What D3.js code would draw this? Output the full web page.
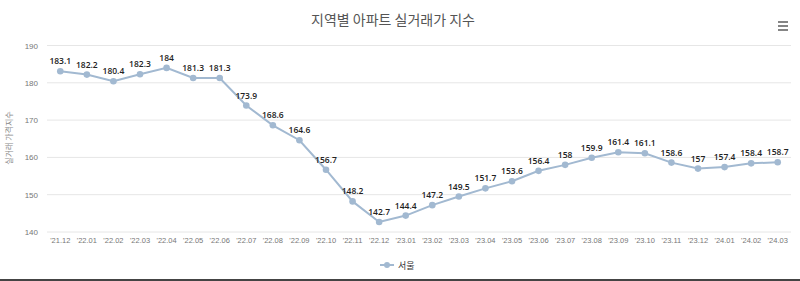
<!DOCTYPE html>
<html><head><meta charset="utf-8">
<script src="https://cdn.jsdelivr.net/npm/d3@7"></script>
<style>body{margin:0;background:#fff}svg{display:block;font-family:"Noto Sans CJK KR","Noto Sans",sans-serif}</style>
</head><body><svg id="c" width="800" height="281"></svg>
<script>
const categories = ["'21.12","'22.01","'22.02","'22.03","'22.04","'22.05","'22.06","'22.07","'22.08","'22.09","'22.10","'22.11","'22.12","'23.01","'23.02","'23.03","'23.04","'23.05","'23.06","'23.07","'23.08","'23.09","'23.10","'23.11","'23.12","'24.01","'24.02","'24.03"];
const seoul = [183.1,182.2,180.4,182.3,184,181.3,181.3,173.9,168.6,164.6,156.7,148.2,142.7,144.4,147.2,149.5,151.7,153.6,156.4,158,159.9,161.4,161.1,158.6,157,157.4,158.4,158.7];
const yTicks = [140,150,160,170,180,190];
const title = "지역별 아파트 실거래가 지수";
const yTitle = "실거래 가격지수";
const seriesName = "서울";

const svg = d3.select("#c");
const L = 47, R = 791, T = 45.5, B = 232;
const x = d3.scaleBand().domain(categories).range([L, R]);
const y = d3.scaleLinear().domain([140,190]).range([B, T]);
const color = "#a2b9d1";

svg.append("text").attr("x",393).attr("y",25).attr("text-anchor","middle")
  .attr("font-size",14).attr("fill","#555").text(title);

// hamburger
const hb = svg.append("g").attr("stroke","#666").attr("stroke-width",1.6);
[22,26,30].forEach(v=>hb.append("line").attr("x1",778).attr("x2",788).attr("y1",v).attr("y2",v));

// grid
svg.append("g").selectAll("line").data(yTicks).join("line")
  .attr("x1",L).attr("x2",R).attr("y1",d=>y(d)).attr("y2",d=>y(d))
  .attr("stroke","#e6e6e6").attr("stroke-width",1);

// y axis labels
const ya = svg.append("g").attr("transform",`translate(${L-9},0)`)
  .call(d3.axisLeft(y).tickValues(yTicks).tickSize(0).tickPadding(0));
ya.select(".domain").remove();
ya.selectAll("text").attr("font-size",8).attr("fill","#777").attr("dy","0.32em");

// x axis labels
const xa = svg.append("g").attr("transform",`translate(0,${B})`)
  .call(d3.axisBottom(x).tickSize(0).tickPadding(6));
xa.select(".domain").remove();
xa.selectAll("text").attr("font-size",7.5).attr("fill","#777");

// y title
svg.append("text").attr("transform","translate(12,138) rotate(-90)").attr("text-anchor","middle")
  .attr("font-size",8).attr("fill","#888").text(yTitle);

// line
const cx = d => x(d) + x.bandwidth()/2;
svg.append("path").datum(seoul)
  .attr("d", d3.line().x((d,i)=>cx(categories[i])).y(d=>y(d)))
  .attr("fill","none").attr("stroke",color).attr("stroke-width",2);
svg.append("g").selectAll("circle").data(seoul).join("circle")
  .attr("cx",(d,i)=>cx(categories[i])).attr("cy",d=>y(d)).attr("r",3.3).attr("fill",color);
svg.append("g").selectAll("text").data(seoul).join("text")
  .attr("x",(d,i)=>cx(categories[i])).attr("y",d=>y(d)-7).attr("text-anchor","middle")
  .attr("font-size",8.5).attr("font-weight",600).attr("fill","#222")
  .attr("font-family","'Open Sans','Noto Sans',sans-serif").text(d=>d);

// legend
svg.append("line").attr("x1",380).attr("x2",394).attr("y1",265).attr("y2",265).attr("stroke",color).attr("stroke-width",2);
svg.append("circle").attr("cx",387).attr("cy",265).attr("r",3).attr("fill",color);
svg.append("text").attr("x",398).attr("y",268.5).attr("font-size",9).attr("fill","#333").text(seriesName);

// bottom border
svg.append("rect").attr("x",0).attr("y",279).attr("width",800).attr("height",2).attr("fill","#444");
</script></body></html>
